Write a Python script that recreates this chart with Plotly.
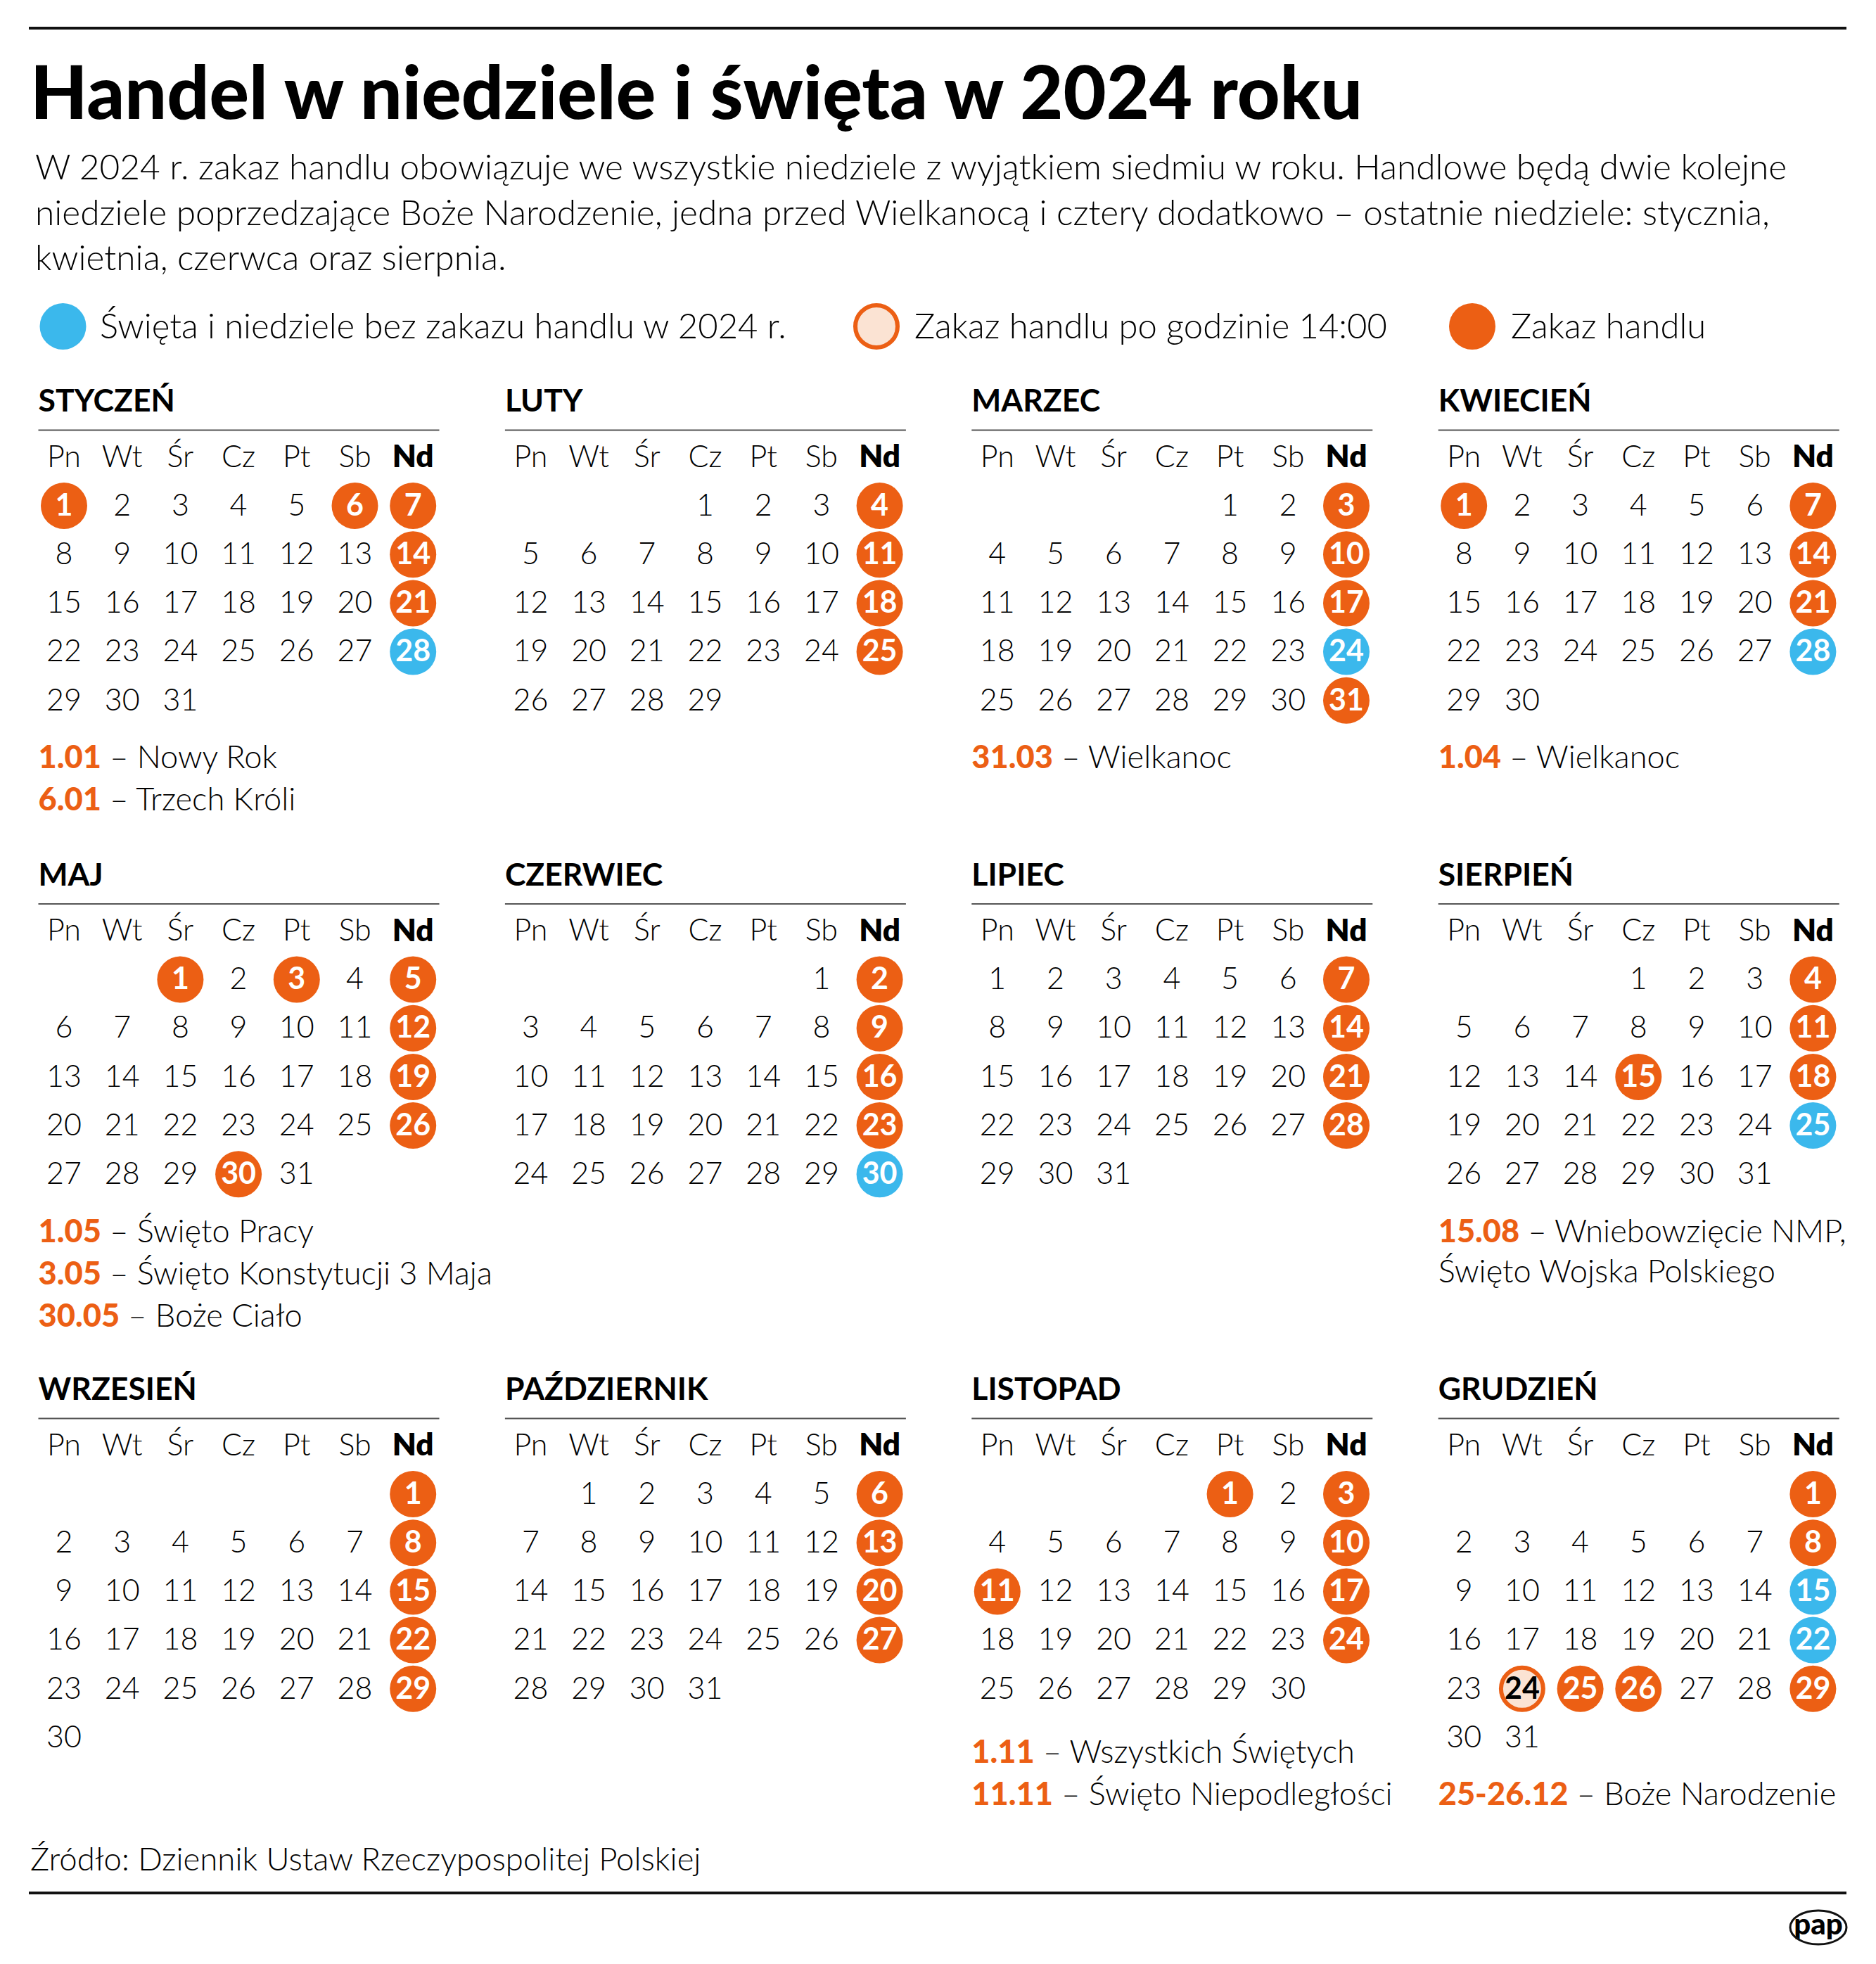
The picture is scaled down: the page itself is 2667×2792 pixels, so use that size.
import plotly.graph_objects as go

W, H = 2667, 2792
FONT = "Lato"
ORANGE = "#EC5F14"
BLUE = "#3BB8EC"
PEACH = "#FBE3D3"
INK = "#000000"

title = "Handel w niedziele i święta w 2024 roku"
intro = [
    "W 2024 r. zakaz handlu obowiązuje we wszystkie niedziele z wyjątkiem siedmiu w roku. Handlowe będą dwie kolejne",
    "niedziele poprzedzające Boże Narodzenie, jedna przed Wielkanocą i cztery dodatkowo – ostatnie niedziele: stycznia,",
    "kwietnia, czerwca oraz sierpnia.",
]
legend_labels = ["Święta i niedziele bez zakazu handlu w 2024 r.", "Zakaz handlu po godzinie 14:00", "Zakaz handlu"]
source = "Źródło: Dziennik Ustaw Rzeczypospolitej Polskiej"
weekdays = ["Pn", "Wt", "Śr", "Cz", "Pt", "Sb", "Nd"]
months = ["STYCZEŃ", "LUTY", "MARZEC", "KWIECIEŃ", "MAJ", "CZERWIEC", "LIPIEC", "SIERPIEŃ",
          "WRZESIEŃ", "PAŹDZIERNIK", "LISTOPAD", "GRUDZIEŃ"]
month_lengths = [31, 29, 31, 30, 31, 30, 31, 31, 30, 31, 30, 31]
first_weekday = [0, 3, 4, 0, 2, 5, 0, 3, 6, 1, 4, 6]
ban_days = [
    [1, 6, 7, 14, 21], [4, 11, 18, 25], [3, 10, 17, 31], [1, 7, 14, 21],
    [1, 3, 5, 12, 19, 26, 30], [2, 9, 16, 23], [7, 14, 21, 28], [4, 11, 15, 18],
    [1, 8, 15, 22, 29], [6, 13, 20, 27], [1, 3, 10, 11, 17, 24], [1, 8, 25, 26, 29],
]
open_days = [[28], [], [24], [28], [], [30], [], [25], [], [], [], [15, 22]]
partial_days = [[], [], [], [], [], [], [], [], [], [], [], [24]]
notes = [
    [("1.01", "Nowy Rok"), ("6.01", "Trzech Króli")], [], [("31.03", "Wielkanoc")], [("1.04", "Wielkanoc")],
    [("1.05", "Święto Pracy"), ("3.05", "Święto Konstytucji 3 Maja"), ("30.05", "Boże Ciało")], [], [],
    [("15.08", "Wniebowzięcie NMP,"), ("", "Święto Wojska Polskiego")],
    [], [], [("1.11", "Wszystkich Świętych"), ("11.11", "Święto Niepodległości")],
    [("25-26.12", "Boże Narodzenie")],
]
note_first_line = [0, 0, 0, 0, 0, 0, 0, 0, 0, 0, 0, 1]

# layout grid of the calendar page
BLOCK_X0, BLOCK_DX = 54.5, 663.4
BLOCK_TOP = [571, 1244.5, 1976]
COL0, COL_DX = 91, 82.7
ROW_HEAD, ROW0, ROW_DY = 79, 148, 69.2
NOTE_OFF = [507, 507, 516]
NOTE_DY = 60
CIRCLE = 66
TEXT_SHIFT = 3

fig = go.Figure()

def text_trace(x, y, text, size, color=INK, weight=300, pos="middle center"):
    fig.add_trace(go.Scatter(x=x, y=[v + TEXT_SHIFT for v in y], text=text, mode="text", textposition=pos,
                             hoverinfo="skip", cliponaxis=False, showlegend=False,
                             textfont=dict(family=FONT, size=size, color=color, weight=weight)))

def dots(x, y, fill, line=None, lw=0, size=CIRCLE):
    if not x:
        return
    fig.add_trace(go.Scatter(x=x, y=y, mode="markers", hoverinfo="skip", showlegend=False, cliponaxis=False,
                             marker=dict(size=size, color=fill, line=dict(color=line or fill, width=lw))))

cells = {"plain": ([], [], []), "ban": ([], [], []), "open": ([], [], []), "partial": ([], [], [])}
head_x, head_y, head_t, nd_x, nd_y = [], [], [], [], []
mx, my, mt = [], [], []
note_x, note_y, note_t = [], [], []
rules = []

for m, name in enumerate(months):
    bx = BLOCK_X0 + (m % 4) * BLOCK_DX
    top = BLOCK_TOP[m // 4]
    mx.append(bx); my.append(top); mt.append(name)
    rules.append((bx, bx + 570, top + 40.5))
    off = bx - BLOCK_X0
    for c, wd in enumerate(weekdays):
        if wd == "Nd":
            nd_x.append(COL0 + off + c * COL_DX); nd_y.append(top + ROW_HEAD)
        else:
            head_x.append(COL0 + off + c * COL_DX); head_y.append(top + ROW_HEAD); head_t.append(wd)
    for d in range(1, month_lengths[m] + 1):
        idx = first_weekday[m] + d - 1
        x = COL0 + off + (idx % 7) * COL_DX
        y = top + ROW0 + (idx // 7) * ROW_DY
        kind = "ban" if d in ban_days[m] else "open" if d in open_days[m] else "partial" if d in partial_days[m] else "plain"
        cells[kind][0].append(x); cells[kind][1].append(y); cells[kind][2].append(str(d))
    for i, (date, label) in enumerate(notes[m]):
        line = i + note_first_line[m]
        note_x.append(bx)
        note_y.append(top + NOTE_OFF[m // 4] + line * (NOTE_DY if date else NOTE_DY - 3))
        lead = f'<span style="color:{ORANGE};font-weight:900">{date}</span> – ' if date else ""
        note_t.append(lead + label)

dots(cells["ban"][0], cells["ban"][1], ORANGE)
dots(cells["open"][0], cells["open"][1], BLUE)
dots(cells["partial"][0], cells["partial"][1], PEACH, ORANGE, 6, CIRCLE - 6)
dots([89.5], [464], BLUE)
dots([1246], [464], PEACH, ORANGE, 6, CIRCLE - 6)
dots([2093], [464], ORANGE)

text_trace(cells["plain"][0], cells["plain"][1], cells["plain"][2], 43)
text_trace(cells["ban"][0], cells["ban"][1], cells["ban"][2], 43, "white", 700)
text_trace(cells["open"][0], cells["open"][1], cells["open"][2], 43, "white", 700)
text_trace(cells["partial"][0], cells["partial"][1], cells["partial"][2], 43, INK, 700)
text_trace(head_x, head_y, head_t, 43)
text_trace(nd_x, nd_y, ["Nd"] * len(nd_x), 44, INK, 800)
text_trace(mx, my, mt, 44.5, INK, 700, "middle right")
text_trace(note_x, note_y, note_t, 45.2, INK, 300, "middle right")

text_trace([43], [140], [title], 105.5, "black", 900, "middle right")
text_trace([50, 50, 50], [240, 305, 369], intro, 49.6, INK, 300, "middle right")
text_trace([142, 1300, 2148], [465.5, 465.5, 465.5], legend_labels, 49, INK, 300, "middle right")
text_trace([43], [2645], [source], 45.5, INK, 300, "middle right")
text_trace([2585], [2736], ["pap"], 42, INK, 900)

shapes = [
    dict(type="line", x0=41, x1=2625, y0=40, y1=40, line=dict(color="#111111", width=4)),
    dict(type="line", x0=41, x1=2625, y0=2691, y1=2691, line=dict(color="#111111", width=4)),
    dict(type="circle", x0=2545, x1=2625, y0=2716, y1=2764, line=dict(color="#111111", width=3)),
]
for a, b, y in rules:
    shapes.append(dict(type="line", x0=a, x1=b, y0=y, y1=y, line=dict(color="#555555", width=2)))

fig.update_layout(
    width=W, height=H, margin=dict(l=0, r=0, t=0, b=0), showlegend=False,
    paper_bgcolor="white", plot_bgcolor="white", shapes=shapes,
    xaxis=dict(range=[0, W], visible=False, fixedrange=True),
    yaxis=dict(range=[H, 0], visible=False, fixedrange=True),
)
fig.write_html("out.html", post_script="document.body.style.margin='0';", config={"displayModeBar": False})
